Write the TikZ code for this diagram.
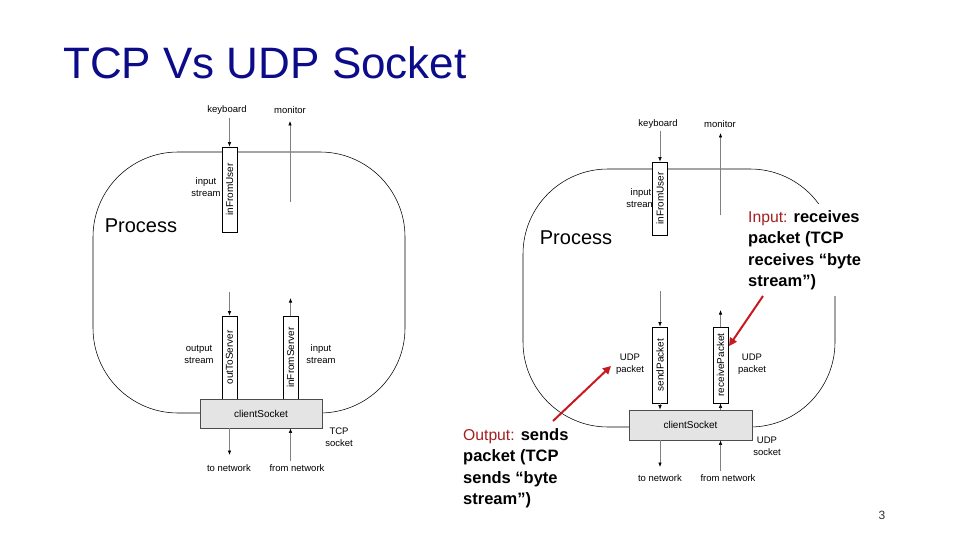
\documentclass[tikz,border=0pt]{standalone}
\usepackage{fontspec}
\setmainfont{Liberation Sans}
\usetikzlibrary{arrows.meta}
\definecolor{titleblue}{RGB}{12,12,138}
\definecolor{annred}{RGB}{200,25,30}
\definecolor{lblred}{RGB}{165,30,30}
\definecolor{sockgray}{RGB}{228,228,228}
\newcommand{\annlbl}[1]{{\fontsize{15.7}{21.5}\mdseries\selectfont\textcolor{lblred}{#1}}}
\begin{document}
\begin{tikzpicture}[x=1pt,y=-1pt,
  lbl/.style={font=\fontsize{9.5}{12}\selectfont, align=center, inner sep=1pt},
  procl/.style={font=\fontsize{20}{24}\selectfont, inner sep=0pt},
  strm/.style={draw, fill=white, line width=0.7pt, minimum width=15pt, inner sep=0pt, font=\fontsize{10}{12}\selectfont},
  sock/.style={draw=black!70, fill=sockgray, line width=0.7pt, inner sep=0pt, font=\fontsize{10}{12}\selectfont},
  flow/.style={draw=black!50, line width=0.6pt, -{Latex[length=4.5pt,width=3.5pt,color=black]}},
  proc/.style={draw, line width=0.55pt, rounded corners=85pt},
  ann/.style={font=\fontsize{16.5}{21.5}\bfseries\selectfont, align=left, fill=white, inner xsep=7pt, inner ysep=6pt},
  redarr/.style={draw=annred, line width=2pt, -{Triangle[length=8pt,width=8pt]}},
  ttl/.style={font=\fontsize{44}{50}\selectfont, text=titleblue, inner sep=0pt, anchor=base west}]
\useasboundingbox (0,0) rectangle (960,540);

% title
\node[ttl] (title) at (63,79) {TCP Vs UDP Socket};

% ---------------- left: TCP ----------------
\draw[proc] (93,152) rectangle (405,413);
\node[lbl] (kb1) at (227,110) {keyboard};
\node[lbl] (mon1) at (290,110) {monitor};
\node[lbl] (ins1) at (206,187) {input\\stream};
\node[procl] (pl1) at (141,226) {Process};
\node[lbl] (outs1) at (199,354) {output\\stream};
\node[lbl] (ins1b) at (321,354) {input\\stream};
\node[lbl] (tcps) at (339,437) {TCP\\socket};
\node[lbl] (tn1) at (229,468) {to network};
\node[lbl] (fn1) at (297,468) {from network};

\node[strm, minimum height=85pt] (ifu1) at (229.5,189.5) {\rotatebox{90}{inFromUser}};
\node[strm, minimum height=83pt] (ots1) at (229.5,357.5) {\rotatebox{90}{outToServer}};
\node[strm, minimum height=83pt] (ifs1) at (290.5,357.5) {\rotatebox{90}{inFromServer}};
\node[sock, minimum width=122pt, minimum height=29pt] (cs1) at (261,413.5) {clientSocket};

\coordinate (k1a) at (229.5,118);
\coordinate (m1a) at (290,202);
\coordinate (m1b) at (290,121);
\coordinate (o1a) at (229.5,292);
\coordinate (i1b) at (290.5,298);
\coordinate (t1b) at (229.5,455);
\coordinate (f1a) at (290.5,461);
\draw[flow] (k1a) -- (ifu1.north);
\draw[flow] (m1a) -- (m1b);
\draw[flow] (o1a) -- (ots1.north);
\draw[flow] (ifs1.north) -- (i1b);
\draw[flow] (cs1.south -| ots1.south) -- (t1b);
\draw[flow] (f1a) -- (cs1.south -| ifs1.south);

% ---------------- right: UDP ----------------
\draw[proc] (523,169) rectangle (835,427);
\node[lbl] (kb2) at (658,124) {keyboard};
\node[lbl] (mon2) at (720,124) {monitor};
\node[lbl] (ins2) at (641,198) {input\\stream};
\node[procl] (pl2) at (576,238) {Process};
\node[lbl] (udpl) at (630,364) {UDP\\packet};
\node[lbl] (udpr) at (752,364) {UDP\\packet};
\node[lbl] (udps) at (767,446) {UDP\\socket};
\node[lbl] (tn2) at (660,478) {to network};
\node[lbl] (fn2) at (728,478) {from network};

\node[strm, minimum height=73pt] (ifu2) at (660,198.5) {\rotatebox{90}{inFromUser}};
\node[strm, minimum height=76pt] (sp2) at (660,365) {\rotatebox{90}{sendPacket}};
\node[strm, minimum height=76pt] (rp2) at (720.5,365) {\rotatebox{90}{receivePacket}};
\node[sock, minimum width=123pt, minimum height=30pt] (cs2) at (690.5,425) {clientSocket};

\coordinate (k2a) at (660,131);
\coordinate (m2a) at (720.5,215);
\coordinate (m2b) at (720.5,133);
\coordinate (s2a) at (660,291);
\coordinate (r2b) at (720.5,310);
\coordinate (t2b) at (660,467);
\coordinate (f2a) at (720.5,471);
\draw[flow] (k2a) -- (ifu2.north);
\draw[flow] (m2a) -- (m2b);
\draw[flow] (s2a) -- (sp2.north);
\draw[flow] (sp2.south) -- (cs2.north -| sp2.south);
\draw[flow] (cs2.north -| rp2.south) -- (rp2.south);
\draw[flow] (rp2.north) -- (r2b);
\draw[flow] (cs2.south -| sp2.south) -- (t2b);
\draw[flow] (f2a) -- (cs2.south -| rp2.south);

% ---------------- annotations ----------------
\node[ann, anchor=north west] (outtxt) at (456,422) {\annlbl{Output:} sends\\packet (TCP\\sends “byte\\stream”)};
\node[ann, anchor=north west] (intxt) at (741,204) {\annlbl{Input:} receives\\packet (TCP\\receives “byte\\stream”)};

\coordinate (oa) at (553,421);
\coordinate (ob) at (611,366);
\coordinate (ia) at (763,296);
\coordinate (ib) at (729,346);
\draw[redarr] (oa) -- (ob);
\draw[redarr] (ia) -- (ib);

\node[font=\fontsize{12}{14}\selectfont, text=black!80, inner sep=0pt] (pg) at (882,515) {3};
\end{tikzpicture}
\end{document}
